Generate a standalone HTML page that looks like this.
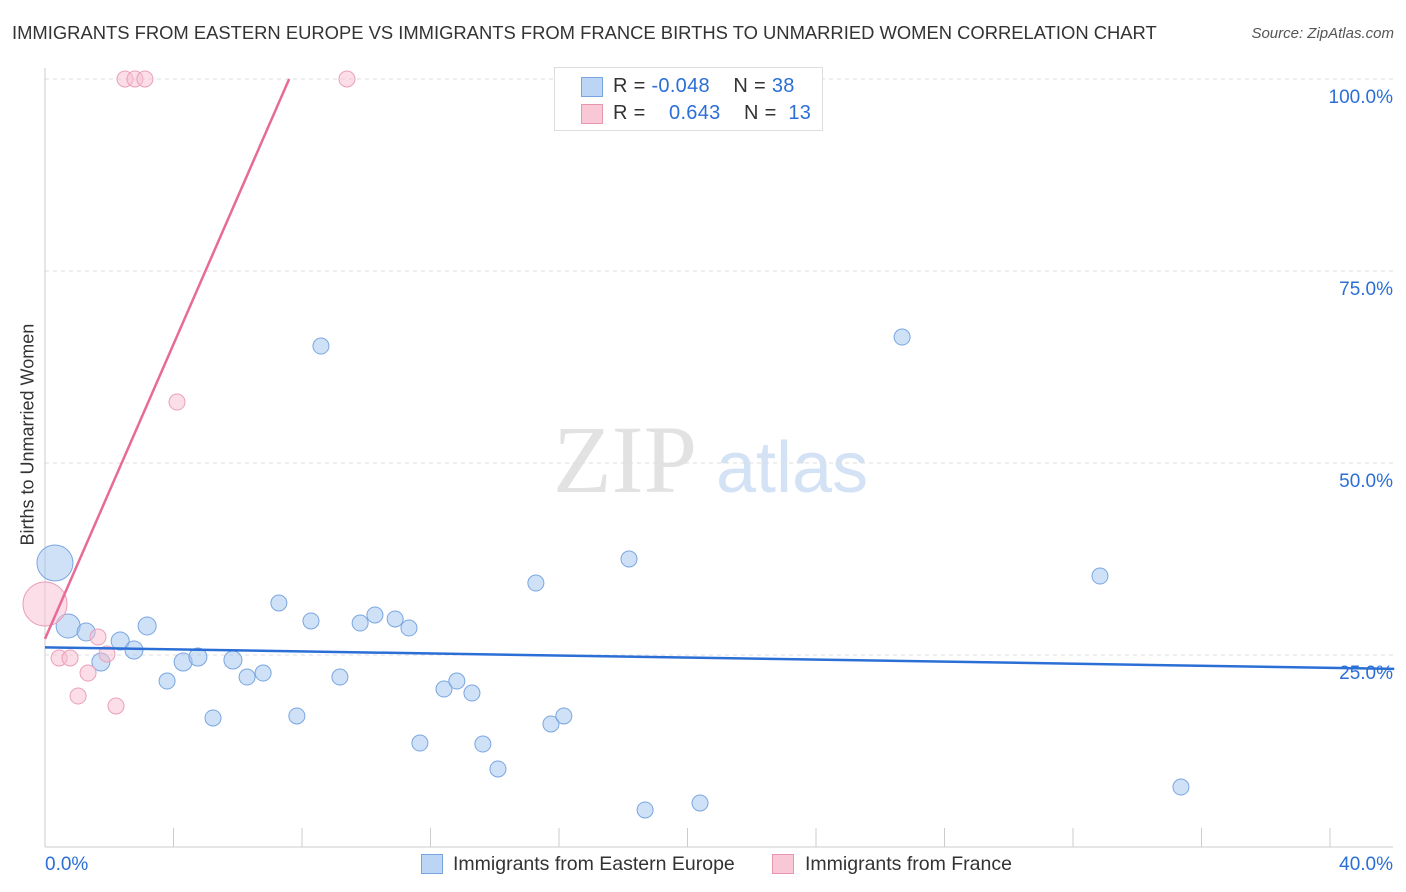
<!DOCTYPE html>
<html><head><meta charset="utf-8"><style>
body{margin:0;background:#fff;font-family:"Liberation Sans",sans-serif;}
#wrap{position:relative;width:1406px;height:892px;overflow:hidden;}
.t{position:absolute;white-space:nowrap;}
</style></head><body>
<div id="wrap">
<div class="t" style="left:12px;top:22px;font-size:18.4px;color:#333;">IMMIGRANTS FROM EASTERN EUROPE VS IMMIGRANTS FROM FRANCE BIRTHS TO UNMARRIED WOMEN CORRELATION CHART</div>
<div class="t" style="right:12px;top:25px;font-size:15px;color:#555;font-style:italic;">Source: ZipAtlas.com</div>
<div class="t" style="left:-62px;top:445px;font-size:18px;color:#333;transform:rotate(-90deg);transform-origin:center;width:180px;text-align:center;">Births to Unmarried Women</div>
<svg id="svg" width="1406" height="892" style="position:absolute;left:0;top:0"></svg>
<div style="position:absolute;left:554px;top:67px;width:267px;height:62px;border:1px solid #ddd;background:#fff;font-size:20px;">
 <div style="position:absolute;left:26px;top:9px;width:20px;height:18px;background:#bcd5f5;border:1px solid #7aa6e0"></div>
 <div class="t" style="left:58px;top:7px;color:#333;letter-spacing:0.3px">R = <span style="color:#2b6fd6">-0.048</span>&nbsp;&nbsp;&nbsp;&nbsp;N = <span style="color:#2b6fd6">38</span></div>
 <div style="position:absolute;left:26px;top:36px;width:20px;height:18px;background:#f8c8d6;border:1px solid #e895ae"></div>
 <div class="t" style="left:58px;top:34px;color:#333;letter-spacing:0.3px">R = &nbsp;&nbsp;&nbsp;<span style="color:#2b6fd6">0.643</span>&nbsp;&nbsp;&nbsp;&nbsp;N = &nbsp;<span style="color:#2b6fd6">13</span></div>
</div>
<div style="position:absolute;left:421px;top:853px;">
 <div style="position:absolute;left:0;top:1px;width:20px;height:18px;background:#bcd5f5;border:1px solid #7aa6e0"></div>
 <div class="t" style="left:32px;top:0;font-size:19.5px;color:#333">Immigrants from Eastern Europe</div></div>
<div style="position:absolute;left:772px;top:853px;">
 <div style="position:absolute;left:0;top:1px;width:20px;height:18px;background:#f8c8d6;border:1px solid #e895ae"></div>
 <div class="t" style="left:33px;top:0;font-size:19.5px;color:#333">Immigrants from France</div></div>
</div>
<script>
const yTicks=[25,50,75,100];
const xTickLabels=["0.0%","40.0%"];
const blueX=[0.31,0.72,1.28,1.74,2.34,2.77,3.18,3.80,4.30,4.76,5.23,5.85,6.29,6.79,7.28,7.84,8.28,8.59,9.18,9.81,10.27,10.90,11.33,11.67,12.42,12.82,13.29,13.63,14.10,15.28,15.75,16.15,18.18,18.68,20.39,26.68,32.84,35.36];
const blueY=[36.98,28.78,28.0,24.09,26.82,25.65,28.78,21.61,24.09,24.74,16.80,24.35,22.13,22.65,31.77,17.06,29.43,65.23,22.13,29.16,30.21,29.69,28.51,13.54,20.57,21.61,20.05,13.41,10.16,34.37,16.02,17.06,37.50,4.82,5.73,66.40,35.28,7.81];
const blueR=[18,12,9,9,9,9,9,8,9,9,8,9,8,8,8,8,8,8,8,8,8,8,8,8,8,8,8,8,8,8,8,8,8,8,8,8,8,8];
const pinkX=[0,0.44,0.78,1.03,1.34,1.65,1.93,2.21,2.49,2.80,3.11,4.11,9.40];
const pinkY=[31.64,24.61,24.61,19.66,22.65,27.34,25.13,18.36,100,100,100,57.94,100];
const pinkR=[22,8,8,8,8,8,8,8,8,8,8,8,8];
const blueTrend=[26.0,23.2]; // at x=0 and x=42
const pinkTrend=[27.1,100];  // at x=0 and x=7.6
const pinkTrendEndX=7.6;
const X=v=>45+v*1285/40, Y=v=>847-v*7.68;
const s=document.getElementById('svg');const NS='http://www.w3.org/2000/svg';
function mk(t,a){const e=document.createElementNS(NS,t);for(const k in a)e.setAttribute(k,a[k]);s.appendChild(e);return e;}
const wm=mk('text',{x:553,y:492,'font-size':96,fill:'#e2e2e2','font-family':'Liberation Serif,serif'});wm.textContent='ZIP';


const wm2=mk('text',{x:716,y:492,'font-size':72,fill:'#d4e2f5','font-family':'Liberation Sans,sans-serif'});wm2.textContent='atlas';


yTicks.forEach(v=>{const g=mk('line',{x1:45,x2:1393,y1:Y(v),y2:Y(v),stroke:'#ddd','stroke-dasharray':'4,4'});


const t=mk('text',{x:1393,y:Y(v)+24,'text-anchor':'end','font-size':19,fill:'#2b6fd6','font-family':'Liberation Sans,sans-serif'});t.textContent=v.toFixed(1)+'%';

});
const ax=mk('line',{x1:45,x2:1393,y1:847,y2:847,stroke:'#ccc'});


const ay=mk('line',{x1:45,x2:45,y1:68,y2:847,stroke:'#ccc'});


for(let i=1;i<=10;i++){const tk=mk('line',{x1:X(i*4),x2:X(i*4),y1:828,y2:847,stroke:'#ccc'});

}
[[0,'start',45],[40,'end',1393]].forEach((d,i)=>{const t=mk('text',{x:d[2],y:870,'text-anchor':d[1],'font-size':19,fill:'#2b6fd6','font-family':'Liberation Sans,sans-serif'});t.textContent=xTickLabels[i];

});
blueX.forEach((x,i)=>{const c=mk('circle',{cx:X(x),cy:Y(blueY[i]),r:blueR[i],fill:'rgba(160,195,240,0.5)',stroke:'#7aa6e0','stroke-width':1});

});
pinkX.forEach((x,i)=>{const c=mk('circle',{cx:X(x),cy:Y(pinkY[i]),r:pinkR[i],fill:'rgba(248,190,210,0.5)',stroke:'#eaa0b8','stroke-width':1});

});
const bl=mk('line',{x1:X(0),y1:Y(blueTrend[0]),x2:X(42),y2:Y(blueTrend[1]),stroke:'#2b6fd6','stroke-width':2.5});


const pl=mk('line',{x1:X(0),y1:Y(pinkTrend[0]),x2:X(pinkTrendEndX),y2:Y(pinkTrend[1]),stroke:'#e86a96','stroke-width':2.5});


</script>
</body></html>
